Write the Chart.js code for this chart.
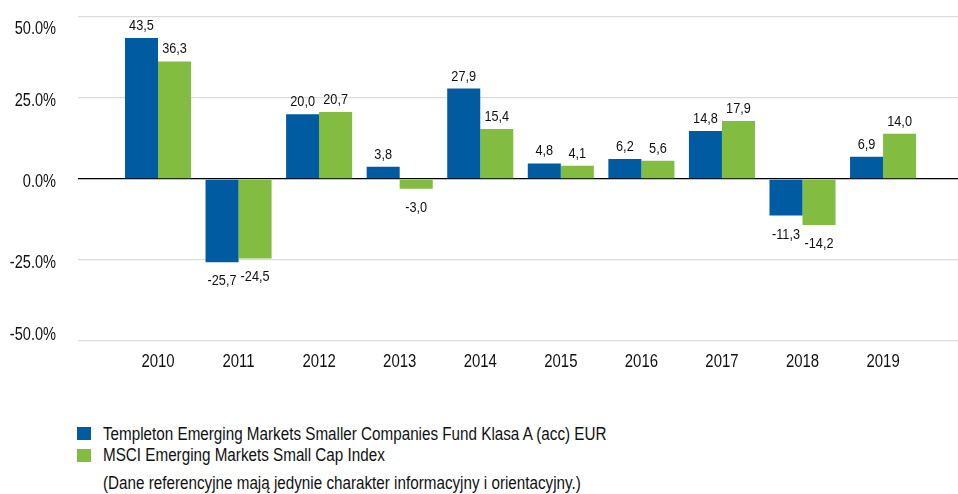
<!DOCTYPE html>
<html>
<head>
<meta charset="utf-8">
<script src="https://cdn.jsdelivr.net/npm/chart.js@4/dist/chart.umd.min.js"></script>
<style>
  html, body { margin: 0; padding: 0; background: #fff; }
  #wrap { position: relative; width: 958px; height: 494px; overflow: hidden; }
  #chart { position: absolute; left: 0; top: 0; }
  .row {
    position: absolute; left: 103px;
    font-family: 'Liberation Sans', Arial, sans-serif;
    font-size: 17.5px; line-height: 20px; color: #111; white-space: nowrap;
    transform: scaleX(0.87); transform-origin: 0 50%;
  }
  .box { position: absolute; left: 77px; width: 14px; height: 13px; }
</style>
</head>
<body>
<div id="wrap">
  <canvas id="chart" width="958" height="400"></canvas>
  <div class="box" style="top:427px;background:#005ba1"></div>
  <div class="row" style="top:424px">Templeton Emerging Markets Smaller Companies Fund Klasa A (acc) EUR</div>
  <div class="box" style="top:449px;background:#82bc41"></div>
  <div class="row" style="top:445px">MSCI Emerging Markets Small Cap Index</div>
  <div class="row" style="top:473px">(Dane referencyjne mają jedynie charakter informacyjny i orientacyjny.)</div>
</div>
<script>
const years = [2010, 2011, 2012, 2013, 2014, 2015, 2016, 2017, 2018, 2019];
const fundReturns = [43.5, -25.7, 20.0, 3.8, 27.9, 4.8, 6.2, 14.8, -11.3, 6.9];
const indexReturns = [36.3, -24.5, 20.7, -3.0, 15.4, 4.1, 5.6, 17.9, -14.2, 14.0];
const yTicks = [-50, -25, 0, 25, 50];

const FONT = "'Liberation Sans', Arial, sans-serif";
const BLUE = '#005ba1';
const GREEN = '#82bc41';
const TEXT = '#111';

const toPoints = vals => vals.map((v, i) => ({ x: years[i], y: v }));
const fmtValue = v => v.toFixed(1).replace('.', ',');

// Draws text squeezed horizontally (narrow typeface look)
function narrowText(ctx, text, x, y, sx) {
  ctx.save();
  ctx.translate(x, y);
  ctx.scale(sx, 1);
  ctx.fillText(text, 0, 0);
  ctx.restore();
}

// Value labels above positive bars and below negative ones
const valueLabels = {
  id: 'valueLabels',
  afterDatasetsDraw(chart) {
    const ctx = chart.ctx;
    ctx.save();
    ctx.font = '15.5px ' + FONT;
    ctx.fillStyle = TEXT;
    ctx.textAlign = 'center';
    ctx.textBaseline = 'alphabetic';
    chart.data.datasets.forEach((ds, di) => {
      const meta = chart.getDatasetMeta(di);
      meta.data.forEach((bar, i) => {
        const v = ds.data[i].y;
        const y = v >= 0 ? bar.y - 8 : bar.y + 23;
        narrowText(ctx, fmtValue(v), bar.x, y, 0.82);
      });
    });
    ctx.restore();
  }
};

// Axis labels: percentages on the left (kept inside the plot height), years below
const axisLabels = {
  id: 'axisLabels',
  afterDraw(chart) {
    const ctx = chart.ctx;
    const ys = chart.scales.y;
    const xs = chart.scales.x;
    const area = chart.chartArea;
    ctx.save();
    ctx.font = '18px ' + FONT;
    ctx.fillStyle = TEXT;
    ctx.textBaseline = 'middle';
    ctx.textAlign = 'right';
    yTicks.forEach(t => {
      let y = ys.getPixelForValue(t) + 3;
      y = Math.min(Math.max(y, area.top + 12), area.bottom - 6);
      narrowText(ctx, t.toFixed(1) + '%', 56, y, 0.81);
    });
    ctx.textAlign = 'center';
    years.forEach(yr => {
      narrowText(ctx, String(yr), xs.getPixelForValue(yr), area.bottom + 21, 0.83);
    });
    ctx.restore();
  }
};

new Chart(document.getElementById('chart'), {
  type: 'bar',
  data: {
    datasets: [
      { label: 'Templeton Emerging Markets Smaller Companies Fund Klasa A (acc) EUR',
        data: toPoints(fundReturns), backgroundColor: BLUE },
      { label: 'MSCI Emerging Markets Small Cap Index',
        data: toPoints(indexReturns), backgroundColor: GREEN }
    ]
  },
  options: {
    responsive: false,
    animation: false,
    barPercentage: 1,
    categoryPercentage: 0.82,
    layout: { padding: { left: 78, right: 0, top: 17, bottom: 59 } },
    plugins: { legend: { display: false }, tooltip: { enabled: false } },
    scales: {
      x: {
        type: 'linear',
        offset: false,
        min: 2009.007,
        max: 2019.93,
        grid: { display: false, drawTicks: false },
        border: { display: false },
        ticks: { display: false, stepSize: 1, includeBounds: false }
      },
      y: {
        min: -50,
        max: 50,
        afterBuildTicks: s => { s.ticks = yTicks.map(v => ({ value: v })); },
        grid: {
          drawTicks: false,
          color: c => c.tick && c.tick.value === 0 ? '#000' : '#dcdcdc',
          lineWidth: c => c.tick && c.tick.value === 0 ? 1.3 : 1.2
        },
        border: { display: false },
        ticks: { display: false }
      }
    }
  },
  plugins: [valueLabels, axisLabels]
});
</script>
</body>
</html>
